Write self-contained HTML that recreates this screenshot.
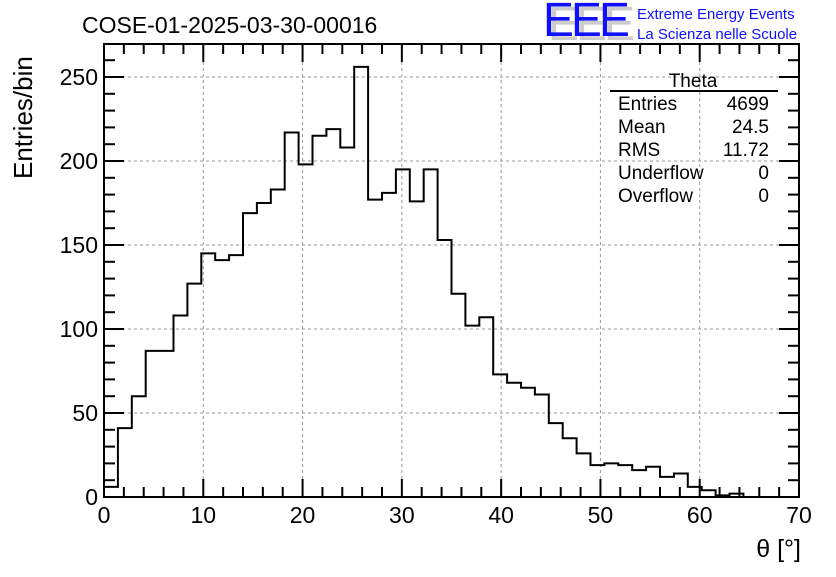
<!DOCTYPE html>
<html><head><meta charset="utf-8"><style>
body{margin:0;background:#fff;}
svg text{font-family:"Liberation Sans",Arial,sans-serif;}
</style></head><body>
<svg id="chart" width="836" height="572" xmlns="http://www.w3.org/2000/svg">
<rect width="836" height="572" fill="#fff"/>
<g id="grid"></g>
<path id="hist" fill="none" stroke="#000" stroke-width="2"/>
<g id="axes"></g>
<text x="82" y="33" font-size="23">COSE-01-2025-03-30-00016</text>
<g>
<text x="548" y="40" font-size="48" fill="#ccc" letter-spacing="-3" textLength="84" lengthAdjust="spacingAndGlyphs">EEE</text>
<text x="543" y="36" font-size="48" fill="#1010ff" letter-spacing="-3" textLength="84" lengthAdjust="spacingAndGlyphs">EEE</text>
<text x="637" y="19" font-size="15" fill="#1010ff">Extreme Energy Events</text>
<text x="637" y="39" font-size="15" fill="#1010ff">La Scienza nelle Scuole</text>
</g>
<g font-size="19">
<text x="693" y="87" text-anchor="middle">Theta</text>
<line x1="610" y1="91" x2="778" y2="91" stroke="#000" stroke-width="2"/>
<text x="618" y="110">Entries</text><text x="769" y="110" text-anchor="end">4699</text>
<text x="618" y="133">Mean</text><text x="769" y="133" text-anchor="end">24.5</text>
<text x="618" y="156">RMS</text><text x="769" y="156" text-anchor="end">11.72</text>
<text x="618" y="179">Underflow</text><text x="769" y="179" text-anchor="end">0</text>
<text x="618" y="202">Overflow</text><text x="769" y="202" text-anchor="end">0</text>
</g>
<text x="801" y="557" font-size="25" text-anchor="end">θ [°]</text>
<text transform="translate(32,179) rotate(-90)" font-size="26">Entries/bin</text>
</svg>
<script>
const binWidth = 1.4;
const counts = [6,41,60,87,87,108,127,145,141,144,169,175,183,217,198,215,219,208,256,177,181,195,176,195,153,121,102,107,73,68,65,61,44,35,26,19,20,19,16,18,12,14,6,4,1,2,0,0,0,0];
const xTicks = [0,10,20,30,40,50,60,70];
const yTicks = [0,50,100,150,200,250];
const X0=104,X1=799,Y0=497,YT=44;
const xs=v=>X0+(v/70)*(X1-X0);
const ys=v=>Y0-v*(420/250);
const NS="http://www.w3.org/2000/svg";
function mk(tag,attrs,parent){const e=document.createElementNS(NS,tag);for(const k in attrs)e.setAttribute(k,attrs[k]);parent.appendChild(e);return e;}
const grid=document.getElementById('grid'),axes=document.getElementById('axes');
xTicks.forEach(t=>{if(t>0&&t<70){const l=mk('line',{x1:xs(t),x2:xs(t),y1:YT,y2:Y0,stroke:'#999','stroke-dasharray':'3,3'},grid);

}});
yTicks.forEach(t=>{if(t>0){const l=mk('line',{x1:X0,x2:X1,y1:ys(t),y2:ys(t),stroke:'#999','stroke-dasharray':'3,3'},grid);

}});
let d='M'+xs(0)+' '+Y0;
counts.forEach((c,i)=>{d+=' L'+xs(i*binWidth)+' '+ys(c)+' L'+xs((i+1)*binWidth)+' '+ys(c);});
d+=' L'+xs(counts.length*binWidth)+' '+Y0;
document.getElementById('hist').setAttribute('d',d);
mk('rect',{x:X0,y:YT,width:X1-X0,height:Y0-YT,fill:'none',stroke:'#000','stroke-width':2},axes);
for(let v=0;v<=70;v+=2){const big=v%10===0;const h=big?18:10;
mk('line',{x1:xs(v),x2:xs(v),y1:Y0,y2:Y0-h,stroke:'#000','stroke-width':2},axes);
mk('line',{x1:xs(v),x2:xs(v),y1:YT,y2:YT+h,stroke:'#000','stroke-width':2},axes);}
for(let v=0;v<=260;v+=10){const y=ys(v);if(y<YT)break;const big=v%50===0;const h=big?20:11;
mk('line',{x1:X0,x2:X0+h,y1:y,y2:y,stroke:'#000','stroke-width':2},axes);
mk('line',{x1:X1,x2:X1-h,y1:y,y2:y,stroke:'#000','stroke-width':2},axes);}
xTicks.forEach(t=>{const e=mk('text',{x:xs(t),y:523,'font-size':23,'text-anchor':'middle'},axes);e.textContent=t;

});
yTicks.forEach(t=>{const e=mk('text',{x:98,y:ys(t)+8,'font-size':23,'text-anchor':'end'},axes);e.textContent=t;

});
</script>
</body></html>
